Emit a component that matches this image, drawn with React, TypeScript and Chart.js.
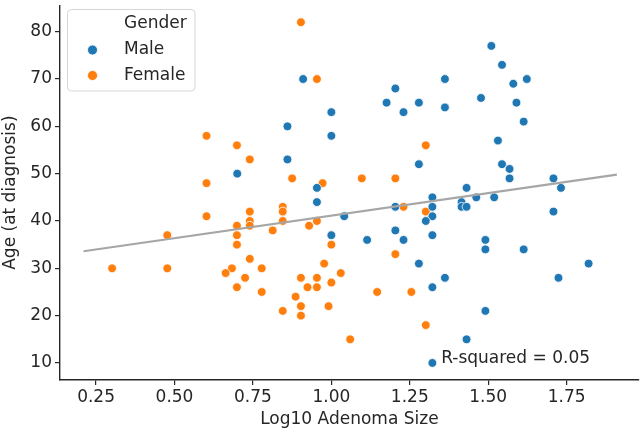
import React, { useEffect, useRef } from 'react';
import { Chart, registerables } from 'chart.js';
Chart.register(...registerables);

// ---- data ----
const maleX = [0.91, 1.0, 0.86, 1.0, 0.86, 0.7, 0.954, 0.954, 1.51, 1.544, 1.362, 1.58, 1.623, 1.204, 1.176, 1.279, 1.23, 1.362, 1.477, 1.59, 1.613, 1.531, 1.279, 1.544, 1.568, 1.568, 1.708, 1.732, 1.431, 1.322, 1.462, 1.519, 1.415, 1.415, 1.431, 1.204, 1.322, 1.322, 1.301, 1.041, 1.708, 1.204, 1.114, 1.23, 1.322, 1.491, 1.491, 1.613, 1.279, 1.82, 1.362, 1.322, 1.724, 1.491, 1.431, 1.322, 1.0];
const maleY = [70, 63, 60, 58, 53, 50, 47, 44, 77, 73, 70, 69, 70, 68, 65, 65, 63, 64, 66, 65, 61, 57, 52, 52, 51, 49, 49, 47, 47, 45, 45, 45, 44, 43, 43, 43, 43, 41, 40, 41, 42, 38, 36, 36, 37, 36, 34, 34, 31, 31, 28, 26, 28, 21, 15, 10, 37];
const femaleX = [0.903, 0.954, 0.602, 0.699, 0.74, 0.875, 0.602, 0.972, 1.301, 1.097, 1.204, 0.602, 0.74, 0.74, 0.74, 0.845, 0.845, 0.845, 0.699, 0.699, 0.699, 0.477, 0.301, 0.477, 0.813, 0.929, 0.954, 1.0, 0.74, 0.683, 0.663, 0.725, 0.778, 0.699, 0.778, 0.977, 1.03, 0.903, 0.954, 1.0, 0.924, 0.954, 0.886, 0.903, 0.991, 0.845, 0.903, 1.06, 1.23, 1.301, 1.204, 1.146, 1.255, 1.301];
const femaleY = [82, 70, 58, 56, 53, 49, 48, 48, 56, 49, 49, 41, 42, 40, 39, 43, 42, 40, 39, 37, 35, 37, 30, 30, 38, 39, 40, 35, 32, 30, 29, 28, 30, 26, 25, 31, 29, 28, 28, 27, 26, 26, 24, 22, 22, 21, 20, 15, 43, 42, 33, 25, 25, 18];
const fitX = [0.21, 1.91];
const fitY = [33.6, 49.8];
const xTicks = [0.25, 0.5, 0.75, 1.0, 1.25, 1.5, 1.75];
const yTicks = [10, 20, 30, 40, 50, 60, 70, 80];
const seriesNames = ['Male', 'Female'];
const legendTitle = 'Gender';
const xTitle = 'Log10 Adenoma Size';
const yTitle = 'Age (at diagnosis)';
const rSquaredLabel = 'R-squared = 0.05';
const rSquaredPos = [1.35, 10];

const BLUE = '#1f77b4';
const ORANGE = '#ff7f0e';
const TEXT = '#262626';
const FONT = '"DejaVu Sans", sans-serif';

const toPts = (xs: number[], ys: number[]) => xs.map((x, i) => ({ x, y: ys[i] }));

const overlayPlugin = {
  id: 'overlay',
  afterDraw(chart: any) {
    const ctx = chart.ctx;
    const xs = chart.scales.x;
    const ys = chart.scales.y;
    ctx.save();
    // R-squared annotation
    ctx.font = `17px ${FONT}`;
    ctx.fillStyle = TEXT;
    ctx.textAlign = 'left';
    ctx.textBaseline = 'alphabetic';
    ctx.fillText(rSquaredLabel, xs.getPixelForValue(rSquaredPos[0]), ys.getPixelForValue(rSquaredPos[1]));

    // legend box
    const bx = 67.5, by = 9.5, bw = 127.5, bh = 81.5, r = 4;
    ctx.beginPath();
    ctx.moveTo(bx + r, by);
    ctx.lineTo(bx + bw - r, by);
    ctx.quadraticCurveTo(bx + bw, by, bx + bw, by + r);
    ctx.lineTo(bx + bw, by + bh - r);
    ctx.quadraticCurveTo(bx + bw, by + bh, bx + bw - r, by + bh);
    ctx.lineTo(bx + r, by + bh);
    ctx.quadraticCurveTo(bx, by + bh, bx, by + bh - r);
    ctx.lineTo(bx, by + r);
    ctx.quadraticCurveTo(bx, by, bx + r, by);
    ctx.closePath();
    ctx.fillStyle = 'rgba(255,255,255,0.8)';
    ctx.fill();
    ctx.strokeStyle = '#d6d6d6';
    ctx.lineWidth = 1;
    ctx.stroke();

    ctx.fillStyle = TEXT;
    ctx.textBaseline = 'middle';
    ctx.fillText(legendTitle, 124, 24);
    const colors = [BLUE, ORANGE];
    const rowsY = [50, 75.5];
    seriesNames.forEach((name, i) => {
      ctx.beginPath();
      ctx.arc(92.5, rowsY[i], 5, 0, Math.PI * 2);
      ctx.fillStyle = colors[i];
      ctx.fill();
      ctx.strokeStyle = '#ffffff';
      ctx.lineWidth = 0.8;
      ctx.stroke();
      ctx.fillStyle = TEXT;
      ctx.fillText(name, 124, rowsY[i]);
    });
    ctx.restore();
  },
};

export default function App() {
  const ref = useRef<HTMLCanvasElement | null>(null);
  useEffect(() => {
    if (!ref.current) return;
    const chart = new Chart(ref.current, {
      type: 'scatter',
      data: {
        datasets: [
          {
            type: 'line',
            label: 'fit',
            data: toPts(fitX, fitY),
            borderColor: '#a6a6a6',
            borderWidth: 2.2,
            pointRadius: 0,
            fill: false,
            order: 0,
          } as any,
          {
            label: seriesNames[0],
            data: toPts(maleX, maleY),
            backgroundColor: BLUE,
            borderColor: '#ffffff',
            borderWidth: 0.8,
            pointRadius: 4.4,
            order: 1,
          },
          {
            label: seriesNames[1],
            data: toPts(femaleX, femaleY),
            backgroundColor: ORANGE,
            borderColor: '#ffffff',
            borderWidth: 0.8,
            pointRadius: 4.4,
            order: 2,
          },
        ],
      },
      options: {
        animation: false,
        responsive: false,
        devicePixelRatio: 1,
        layout: { padding: { left: 0, top: 1, right: 4, bottom: 0 } },
        plugins: { legend: { display: false }, tooltip: { enabled: false } },
        scales: {
          x: {
            type: 'linear',
            min: 0.135,
            max: 1.98,
            afterBuildTicks: (s: any) => { s.ticks = xTicks.map((v) => ({ value: v })); },
            afterFit: (s: any) => { s.height = 54; s.paddingRight = 0; },
            grid: { drawOnChartArea: false, drawTicks: true, tickLength: 5, color: TEXT, lineWidth: 1.2 },
            border: { display: true, color: TEXT, width: 1.4 },
            ticks: {
              color: TEXT,
              font: { family: FONT, size: 17 },
              padding: 2,
              maxRotation: 0,
              autoSkip: false,
              callback: (v: any) => Number(v).toFixed(2),
            },
            title: { display: true, text: xTitle, color: TEXT, font: { family: FONT, size: 17 }, padding: { top: 0, bottom: 4 } },
          },
          y: {
            type: 'linear',
            min: 6.4,
            max: 85.6,
            afterBuildTicks: (s: any) => { s.ticks = yTicks.map((v) => ({ value: v })); },
            afterFit: (s: any) => { s.width = 60; s.paddingTop = 0; s.paddingBottom = 0; },
            grid: { drawOnChartArea: false, drawTicks: true, tickLength: 5, color: TEXT, lineWidth: 1.2 },
            border: { display: true, color: TEXT, width: 1.4 },
            ticks: {
              color: TEXT,
              font: { family: FONT, size: 17 },
              padding: 3,
              autoSkip: false,
              callback: (v: any) => String(v),
            },
            title: { display: true, text: yTitle, color: TEXT, font: { family: FONT, size: 17 }, padding: { top: 0, bottom: 0 } },
          },
        },
      },
      plugins: [overlayPlugin],
    });
    return () => chart.destroy();
  }, []);
  return (
    <div style={{ position: 'fixed', left: 0, top: 0, width: 644, height: 434, background: '#fff' }}>
      <canvas ref={ref} width={644} height={434} style={{ width: 644, height: 434, display: 'block' }} />
    </div>
  );
}
